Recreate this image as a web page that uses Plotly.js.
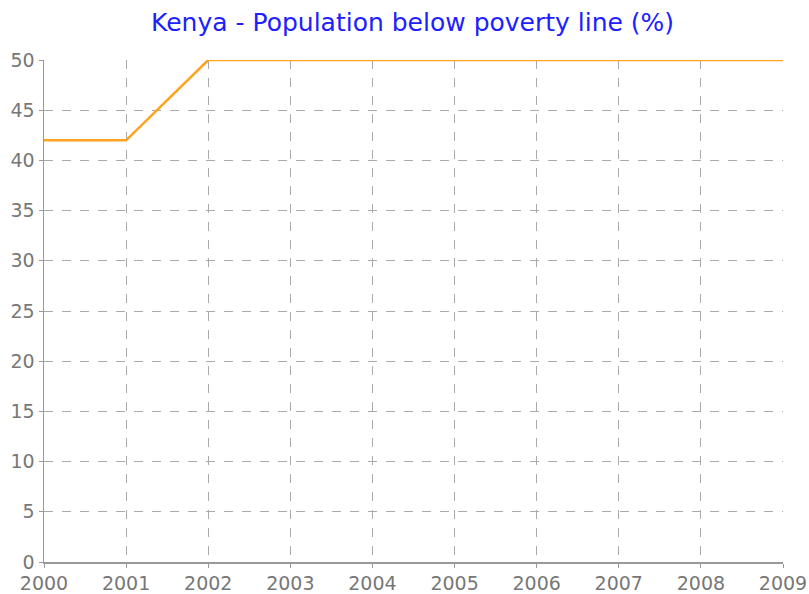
<!DOCTYPE html>
<html>
<head>
<meta charset="utf-8">
<script src="https://cdn.plot.ly/plotly-3.0.1.min.js"></script>
<style>html,body{margin:0;padding:0;background:#fff;}#chart{width:809px;height:594px;}</style>
</head>
<body>
<div id="chart"></div>
<script>
const years = [2000, 2001, 2002, 2003, 2004, 2005, 2006, 2007, 2008, 2009];
const povertyPct = [42, 42, 50, 50, 50, 50, 50, 50, 50, 50];
const yTicks = [0, 5, 10, 15, 20, 25, 30, 35, 40, 45, 50];

const trace = {
  x: years,
  y: povertyPct,
  type: 'scatter',
  mode: 'lines',
  line: {color: '#FFA21F', width: 2.5},
  hoverinfo: 'x+y'
};

const tickFont = {family: 'DejaVu Sans, sans-serif', size: 19, color: '#777777'};

const layout = {
  width: 809,
  height: 594,
  margin: {l: 44, r: 26, t: 60, b: 32},
  paper_bgcolor: '#fff',
  plot_bgcolor: '#fff',
  showlegend: false,
  title: {
    text: 'Kenya - Population below poverty line (%)',
    font: {family: 'DejaVu Sans, sans-serif', size: 25, color: '#2020ff'},
    x: 0.51, xanchor: 'center', y: 0.963, yanchor: 'middle'
  },
  xaxis: {
    range: [2000, 2009],
    tickvals: years,
    ticktext: years.map(String),
    showgrid: true,
    gridcolor: '#aaaaaa',
    griddash: 'dash',
    gridwidth: 1,
    showline: true,
    linecolor: '#999999',
    linewidth: 1.5,
    ticks: 'outside',
    ticklen: 4,
    tickcolor: '#999999',
    tickfont: tickFont,
    zeroline: false,
    fixedrange: true
  },
  yaxis: {
    range: [0, 50],
    tickvals: yTicks,
    showgrid: true,
    gridcolor: '#aaaaaa',
    griddash: 'dash',
    gridwidth: 1,
    showline: true,
    linecolor: '#999999',
    linewidth: 1.5,
    ticks: 'outside',
    ticklen: 4,
    tickcolor: '#999999',
    tickfont: tickFont,
    zeroline: false,
    fixedrange: true
  }
};

Plotly.newPlot('chart', [trace], layout, {displayModeBar: false, staticPlot: true});
</script>
</body>
</html>
